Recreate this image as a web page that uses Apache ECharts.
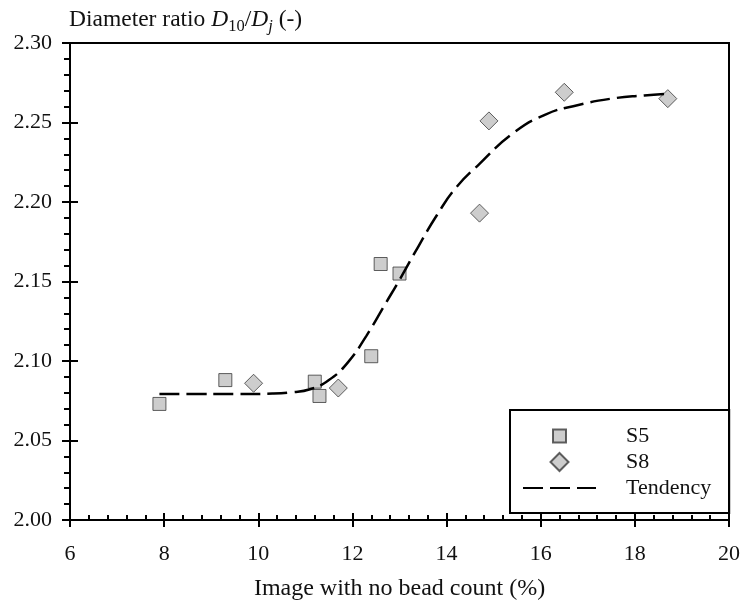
<!DOCTYPE html>
<html>
<head>
<meta charset="utf-8">
<script src="https://cdn.jsdelivr.net/npm/echarts@6/dist/echarts.min.js"></script>
<style>html,body{margin:0;padding:0;background:#fff;}#c{width:743px;height:613px;}</style>
</head>
<body>
<div id="c"></div>
<script>
// Data
const s5X = [7.9, 9.3, 11.2, 11.3, 12.4, 12.6, 13.0];
const s5Y = [2.073, 2.088, 2.087, 2.078, 2.103, 2.161, 2.155];
const s8X = [9.9, 11.7, 14.7, 14.9, 16.5, 18.7];
const s8Y = [2.086, 2.083, 2.193, 2.251, 2.269, 2.265];
const trendX = [7.9, 8.5, 9.5, 10.3, 10.7, 11.1, 11.5, 11.9, 12.3, 12.7, 13.0, 13.4, 13.8, 14.2, 14.7, 15.4, 16.1, 16.8, 17.5, 18.2, 18.7];
const trendY = [2.0792, 2.0792, 2.0792, 2.0795, 2.0803, 2.0822, 2.088, 2.099, 2.116, 2.136, 2.151, 2.172, 2.192, 2.209, 2.224, 2.243, 2.255, 2.261, 2.265, 2.267, 2.268];
const xTicks = { min: 6, max: 20, interval: 2 };
const yTicks = { min: 2.0, max: 2.3, interval: 0.05 };
const seriesNames = ['S5', 'S8', 'Tendency'];
const xTitle = 'Image with no bead count (%)';

const pair = (xs, ys) => xs.map((x, i) => [x, ys[i]]);
const FONT = "'Liberation Serif', 'Times New Roman', serif";
const TXT = '#111';

const chart = echarts.init(document.getElementById('c'), null, { renderer: 'canvas' });
const markerStyle = { color: '#c0c0c0', borderColor: '#3a3a3a', borderWidth: 1 };

const option = {
  backgroundColor: '#fff',
  animation: false,
  textStyle: { fontFamily: FONT },
  grid: { left: 70, right: 11, top: 43, bottom: 93, show: true, borderColor: '#000', borderWidth: 2, backgroundColor: 'transparent' },
  legend: {
    orient: 'vertical', left: 510, top: 410,
    padding: [15, 18, 14, 12],
    borderColor: '#000', borderWidth: 2,
    itemWidth: 73, itemHeight: 18, itemGap: 4,
    textStyle: { fontFamily: FONT, fontSize: 22, color: TXT, padding: [0, 0, 0, 25] },
    data: [
      { name: seriesNames[0], icon: 'path://M0,0 M18,18 M2.5,2.5 L15.5,2.5 L15.5,15.5 L2.5,15.5 Z' },
      { name: seriesNames[1], icon: 'path://M9,0 L18,9 L9,18 L0,9 Z' },
      { name: seriesNames[2], itemStyle: { opacity: 0 } }
    ]
  },
  xAxis: [
    {
      type: 'value', position: 'bottom', min: xTicks.min, max: xTicks.max, interval: xTicks.interval,
      axisLine: { show: true, lineStyle: { color: '#000', width: 2 } },
      axisTick: { show: true, inside: true, length: 7, lineStyle: { color: '#000', width: 2 } },
      minorTick: { show: true, splitNumber: 5, length: 5, lineStyle: { color: '#000', width: 2 } },
      splitLine: { show: false },
      axisLabel: { fontFamily: FONT, fontSize: 22, color: TXT, margin: 23 },
      name: xTitle, nameLocation: 'middle', nameGap: 57,
      nameTextStyle: { fontFamily: FONT, fontSize: 24, color: TXT }
    },
    {
      type: 'value', position: 'bottom', min: xTicks.min, max: xTicks.max, interval: xTicks.interval,
      axisLine: { show: false },
      axisTick: { show: true, inside: false, length: 7, lineStyle: { color: '#000', width: 2 } },
      splitLine: { show: false }, axisLabel: { show: false }
    }
  ],
  yAxis: [
    {
      type: 'value', position: 'left', min: yTicks.min, max: yTicks.max, interval: yTicks.interval,
      axisLine: { show: true, lineStyle: { color: '#000', width: 2 } },
      axisTick: { show: true, inside: false, length: 8, lineStyle: { color: '#000', width: 2 } },
      minorTick: { show: true, splitNumber: 5, length: 6, lineStyle: { color: '#000', width: 2 } },
      splitLine: { show: false },
      axisLabel: { fontFamily: FONT, fontSize: 22, color: TXT, margin: 18, formatter: v => v.toFixed(2) },
      name: '{n|Diameter ratio }{i|D}{s|10}{n|/}{i|D}{si|j}{n| (-)}',
      nameLocation: 'end', nameGap: 23,
      nameTextStyle: {
        align: 'left', verticalAlign: 'middle', padding: [0, 0, 0, -1],
        rich: {
          n: { fontFamily: FONT, fontSize: 23.5, color: TXT, lineHeight: 30 },
          i: { fontFamily: FONT, fontSize: 23.5, color: TXT, fontStyle: 'italic', lineHeight: 30 },
          s: { fontFamily: FONT, fontSize: 16.5, color: TXT, lineHeight: 14, verticalAlign: 'bottom' },
          si: { fontFamily: FONT, fontSize: 16.5, color: TXT, fontStyle: 'italic', lineHeight: 14, verticalAlign: 'bottom' }
        }
      }
    },
    {
      type: 'value', position: 'left', min: yTicks.min, max: yTicks.max, interval: yTicks.interval,
      axisLine: { show: false },
      axisTick: { show: true, inside: true, length: 8, lineStyle: { color: '#000', width: 2 } },
      splitLine: { show: false }, axisLabel: { show: false }
    }
  ],
  series: [
    {
      name: seriesNames[0], type: 'scatter', xAxisIndex: 0, yAxisIndex: 0,
      symbol: 'rect', symbolSize: 13, symbolKeepAspect: true,
      itemStyle: markerStyle, data: pair(s5X, s5Y)
    },
    {
      name: seriesNames[1], type: 'scatter', xAxisIndex: 0, yAxisIndex: 0,
      symbol: 'diamond', symbolSize: 18, symbolKeepAspect: true,
      itemStyle: markerStyle, data: pair(s8X, s8Y)
    },
    {
      name: seriesNames[2], type: 'line', xAxisIndex: 0, yAxisIndex: 0,
      symbol: 'none', showSymbol: false, smooth: 0.5,
      itemStyle: { color: '#000' },
      lineStyle: { color: '#000', width: 2.5, type: [20, 7] },
      data: pair(trendX, trendY), z: 3
    }
  ]
};
chart.setOption(option);
</script>
</body>
</html>
